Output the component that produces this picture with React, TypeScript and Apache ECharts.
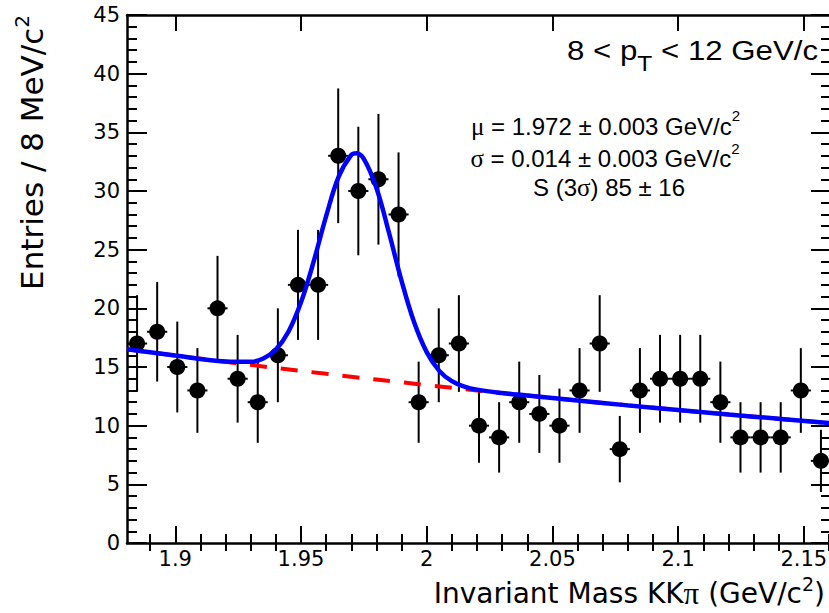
import React, { useEffect, useRef } from 'react';
import * as echarts from 'echarts';

// ---- data ----
const binCenters = [
  1.8848, 1.8928, 1.9008, 1.9088, 1.9168, 1.9248, 1.9328, 1.9408, 1.9488, 1.9568,
  1.9648, 1.9728, 1.9808, 1.9888, 1.9968, 2.0048, 2.0128, 2.0208, 2.0288, 2.0368,
  2.0448, 2.0528, 2.0608, 2.0688, 2.0768, 2.0848, 2.0928, 2.1008, 2.1088, 2.1168,
  2.1248, 2.1328, 2.1408, 2.1488, 2.1568,
];
const entries = [
  17, 18, 15, 13, 20, 14, 12, 16, 22, 22,
  33, 30, 31, 28, 12, 16, 17, 10, 9, 12,
  11, 10, 13, 17, 8, 13, 14, 14, 14, 12,
  9, 9, 9, 13, 7,
];
const entryErrors = [
  4.12, 4.24, 3.87, 3.61, 4.47, 3.74, 3.46, 4.0, 4.69, 4.69,
  5.74, 5.48, 5.57, 5.29, 3.46, 4.0, 4.12, 3.16, 3.0, 3.46,
  3.32, 3.16, 3.61, 4.12, 2.83, 3.61, 3.74, 3.74, 3.74, 3.46,
  3.0, 3.0, 3.0, 3.61, 2.65,
];
const binHalfWidth = 0.004;

const fitMass = [
  1.8808, 1.9, 1.92, 1.93, 1.935, 1.94, 1.945, 1.95, 1.955, 1.96,
  1.965, 1.97, 1.972, 1.975, 1.98, 1.985, 1.99, 1.995, 2.0, 2.005,
  2.01, 2.015, 2.02, 2.03, 2.04, 2.06, 2.08, 2.1, 2.12, 2.14, 2.1608,
];
const fitTotal = [
  16.51, 15.98, 15.47, 15.44, 15.72, 16.48, 18.0, 20.51, 23.96, 27.85,
  31.23, 33.08, 33.22, 32.73, 30.26, 26.44, 22.34, 18.81, 16.27, 14.67,
  13.79, 13.33, 13.07, 12.78, 12.57, 12.14, 11.73, 11.34, 10.95, 10.59, 10.21,
];
const bgMass = [1.8808, 1.92, 1.96, 2.0, 2.04, 2.08, 2.12, 2.1608];
const bgLevel = [16.51, 15.44, 14.42, 13.46, 12.57, 11.73, 10.95, 10.21];

const xMajorTicks = [1.9, 1.95, 2.0, 2.05, 2.1, 2.15];
const xTickLabels = ['1.9', '1.95', '2', '2.05', '2.1', '2.15'];
const xMinorTicks = [
  1.89, 1.91, 1.92, 1.93, 1.94, 1.96, 1.97, 1.98, 1.99, 2.01, 2.02,
  2.03, 2.04, 2.06, 2.07, 2.08, 2.09, 2.11, 2.12, 2.13, 2.14, 2.16,
];

const X_MIN = 1.8808;
const X_MAX = 2.1608;

const SANS = 'DejaVu Sans';
const ANN = 'Liberation Sans';
const SERIF = 'Liberation Serif';

function buildOption(): any {
  const black = '#000';
  const tickLine = { color: black, width: 2 };
  const axisLine = { show: true, onZero: false, lineStyle: { color: black, width: 2.5 } };
  const baseX = {
    type: 'value',
    min: X_MIN,
    max: X_MAX,
    gridIndex: 0,
    splitLine: { show: false },
  };
  const baseY = {
    type: 'value',
    min: 0,
    max: 45,
    interval: 5,
    splitLine: { show: false },
    minorSplitLine: { show: false },
  };
  const labelOf = (v: number) => {
    const i = xMajorTicks.findIndex((t) => Math.abs(t - v) < 1e-9);
    return i >= 0 ? xTickLabels[i] : '';
  };
  const xTitleRich = {
    a: { fontFamily: SANS, fontSize: 28, lineHeight: 30, fill: black, verticalAlign: 'middle' },
    g: { fontFamily: SERIF, fontSize: 31, lineHeight: 30, fill: black, verticalAlign: 'middle' },
    s: { fontFamily: SANS, fontSize: 19, lineHeight: 19, fill: black, padding: [0, 0, 19, 0], verticalAlign: 'middle' },
  };
  const yTitleRich = {
    a: { fontFamily: SANS, fontSize: 31, lineHeight: 36, fill: black, verticalAlign: 'middle' },
    s: { fontFamily: SANS, fontSize: 20, lineHeight: 20, fill: black, padding: [0, 0, 20, 0], verticalAlign: 'middle' },
  };
  const annRich = {
    a: { fontFamily: ANN, fontSize: 24, lineHeight: 30, fill: black, verticalAlign: 'middle' },
    g: { fontFamily: SERIF, fontSize: 25, lineHeight: 30, fill: black, verticalAlign: 'middle' },
    s: { fontFamily: ANN, fontSize: 15, lineHeight: 15, fill: black, padding: [0, 0, 21, 0], verticalAlign: 'middle' },
  };

  return {
    animation: false,
    backgroundColor: '#fff',
    textStyle: { fontFamily: SANS },
    grid: { left: 127, right: 3, top: 15, bottom: 70, containLabel: false, outerBoundsMode: 'none' },
    xAxis: [
      {
        ...baseX,
        position: 'bottom',
        axisLine,
        axisTick: { show: true, inside: true, length: 17, customValues: xMajorTicks, lineStyle: tickLine },
        axisLabel: {
          show: true,
          customValues: xMajorTicks,
          formatter: labelOf,
          margin: 5,
          fontSize: 21,
          fontFamily: SANS,
          color: black,
        },
      },
      {
        ...baseX,
        position: 'bottom',
        axisLine: { show: false },
        axisTick: { show: true, inside: true, length: 9, customValues: xMinorTicks, lineStyle: tickLine },
        axisLabel: { show: false },
      },
      {
        ...baseX,
        position: 'top',
        axisLine,
        axisTick: { show: true, inside: true, length: 16, customValues: xMajorTicks, lineStyle: tickLine },
        axisLabel: { show: false },
      },
      {
        ...baseX,
        position: 'top',
        axisLine: { show: false },
        axisTick: { show: true, inside: true, length: 8, customValues: xMinorTicks, lineStyle: tickLine },
        axisLabel: { show: false },
      },
    ],
    yAxis: [
      {
        ...baseY,
        position: 'left',
        axisLine,
        axisTick: { show: true, inside: true, length: 20, lineStyle: tickLine },
        minorTick: { show: true, splitNumber: 5, length: 10, lineStyle: tickLine },
        axisLabel: { show: true, margin: 7, fontSize: 21, fontFamily: SANS, color: black },
      },
      {
        ...baseY,
        position: 'right',
        axisLine,
        axisTick: { show: true, inside: true, length: 20, lineStyle: tickLine },
        minorTick: { show: true, splitNumber: 5, length: 10, lineStyle: tickLine },
        axisLabel: { show: false },
      },
    ],
    graphic: [
      {
        type: 'text',
        x: 825,
        y: 578.5,
        style: {
          text: '{a|Invariant Mass KK}{g|π}{a| (GeV/c}{s|2}{a|)}',
          align: 'right',
          verticalAlign: 'top',
          fill: black,
          fontFamily: SANS,
          fontSize: 28,
          rich: xTitleRich,
        },
      },
      {
        type: 'text',
        x: 14,
        y: 15,
        rotation: Math.PI / 2,
        style: {
          text: '{a|Entries / 8 MeV/c}{s|2}',
          align: 'right',
          verticalAlign: 'top',
          fill: black,
          fontFamily: SANS,
          fontSize: 31,
          rich: yTitleRich,
        },
      },
      {
        type: 'text',
        x: 818,
        y: 33.5,
        scaleX: 1.115,
        style: {
          text: '{a|8 < p}{t|T}{a| < 12 GeV/c}',
          align: 'right',
          verticalAlign: 'top',
          fill: black,
          fontFamily: ANN,
          fontSize: 28,
          rich: {
            a: { fontFamily: ANN, fontSize: 28, lineHeight: 34, fill: black, verticalAlign: 'middle' },
            t: { fontFamily: ANN, fontSize: 22, lineHeight: 22, fill: black, padding: [25.6, 0, 0, 0], verticalAlign: 'middle' },
          },
        },
      },
      {
        type: 'text',
        x: 605.5,
        y: 111,
        style: {
          text: '{g|μ}{a| = 1.972 ± 0.003 GeV/c}{s|2}',
          align: 'center',
          verticalAlign: 'top',
          fill: black,
          fontFamily: ANN,
          fontSize: 24,
          rich: annRich,
        },
      },
      {
        type: 'text',
        x: 605,
        y: 143.7,
        style: {
          text: '{g|σ}{a| = 0.014 ± 0.003 GeV/c}{s|2}',
          align: 'center',
          verticalAlign: 'top',
          fill: black,
          fontFamily: ANN,
          fontSize: 24,
          rich: annRich,
        },
      },
      {
        type: 'text',
        x: 609,
        y: 172.2,
        style: {
          text: '{a|S (3}{g|σ}{a|) 85 ± 16}',
          align: 'center',
          verticalAlign: 'top',
          fill: black,
          fontFamily: ANN,
          fontSize: 24,
          rich: annRich,
        },
      },
    ],
    series: [
      {
        type: 'custom',
        name: 'errors',
        xAxisIndex: 0,
        yAxisIndex: 0,
        z: 2,
        encode: { x: 0, y: 1 },
        data: binCenters.map((c, i) => [c, entries[i], entryErrors[i]]),
        renderItem: (params: any, api: any) => {
          const x = api.value(0);
          const y = api.value(1);
          const e = api.value(2);
          const top = api.coord([x, y + e]);
          const bot = api.coord([x, y - e]);
          const l = api.coord([x - binHalfWidth, y]);
          const r = api.coord([x + binHalfWidth, y]);
          return {
            type: 'group',
            children: [
              { type: 'line', shape: { x1: top[0], y1: top[1], x2: bot[0], y2: bot[1] }, style: { stroke: black, lineWidth: 2 } },
              { type: 'line', shape: { x1: l[0], y1: l[1], x2: r[0], y2: r[1] }, style: { stroke: black, lineWidth: 2 } },
            ],
          };
        },
      },
      {
        type: 'scatter',
        name: 'data',
        xAxisIndex: 0,
        yAxisIndex: 0,
        z: 3,
        symbol: 'circle',
        symbolSize: 16,
        itemStyle: { color: black, opacity: 1 },
        data: binCenters.map((c, i) => [c, entries[i]]),
      },
      {
        type: 'line',
        name: 'background',
        xAxisIndex: 0,
        yAxisIndex: 0,
        z: 4,
        showSymbol: false,
        symbol: 'none',
        smooth: true,
        lineStyle: { color: '#ff0000', width: 4, type: [17, 14] },
        data: bgMass.map((m, i) => [m, bgLevel[i]]),
      },
      {
        type: 'line',
        name: 'fit',
        xAxisIndex: 0,
        yAxisIndex: 0,
        z: 5,
        showSymbol: false,
        symbol: 'none',
        smooth: 0.4,
        lineStyle: { color: '#0000ff', width: 4.5 },
        data: fitMass.map((m, i) => [m, fitTotal[i]]),
      },
    ],
  };
}

export default function App() {
  const ref = useRef<HTMLDivElement>(null);
  useEffect(() => {
    if (!ref.current) return;
    const chart = echarts.init(ref.current, null, { renderer: 'svg' });
    chart.setOption(buildOption());
    return () => chart.dispose();
  }, []);
  return (
    <div
      style={{
        position: 'fixed',
        left: 0,
        top: 0,
        width: 829,
        height: 613,
        overflow: 'hidden',
        background: '#fff',
      }}
    >
      <div ref={ref} style={{ width: 834, height: 613 }} />
    </div>
  );
}
